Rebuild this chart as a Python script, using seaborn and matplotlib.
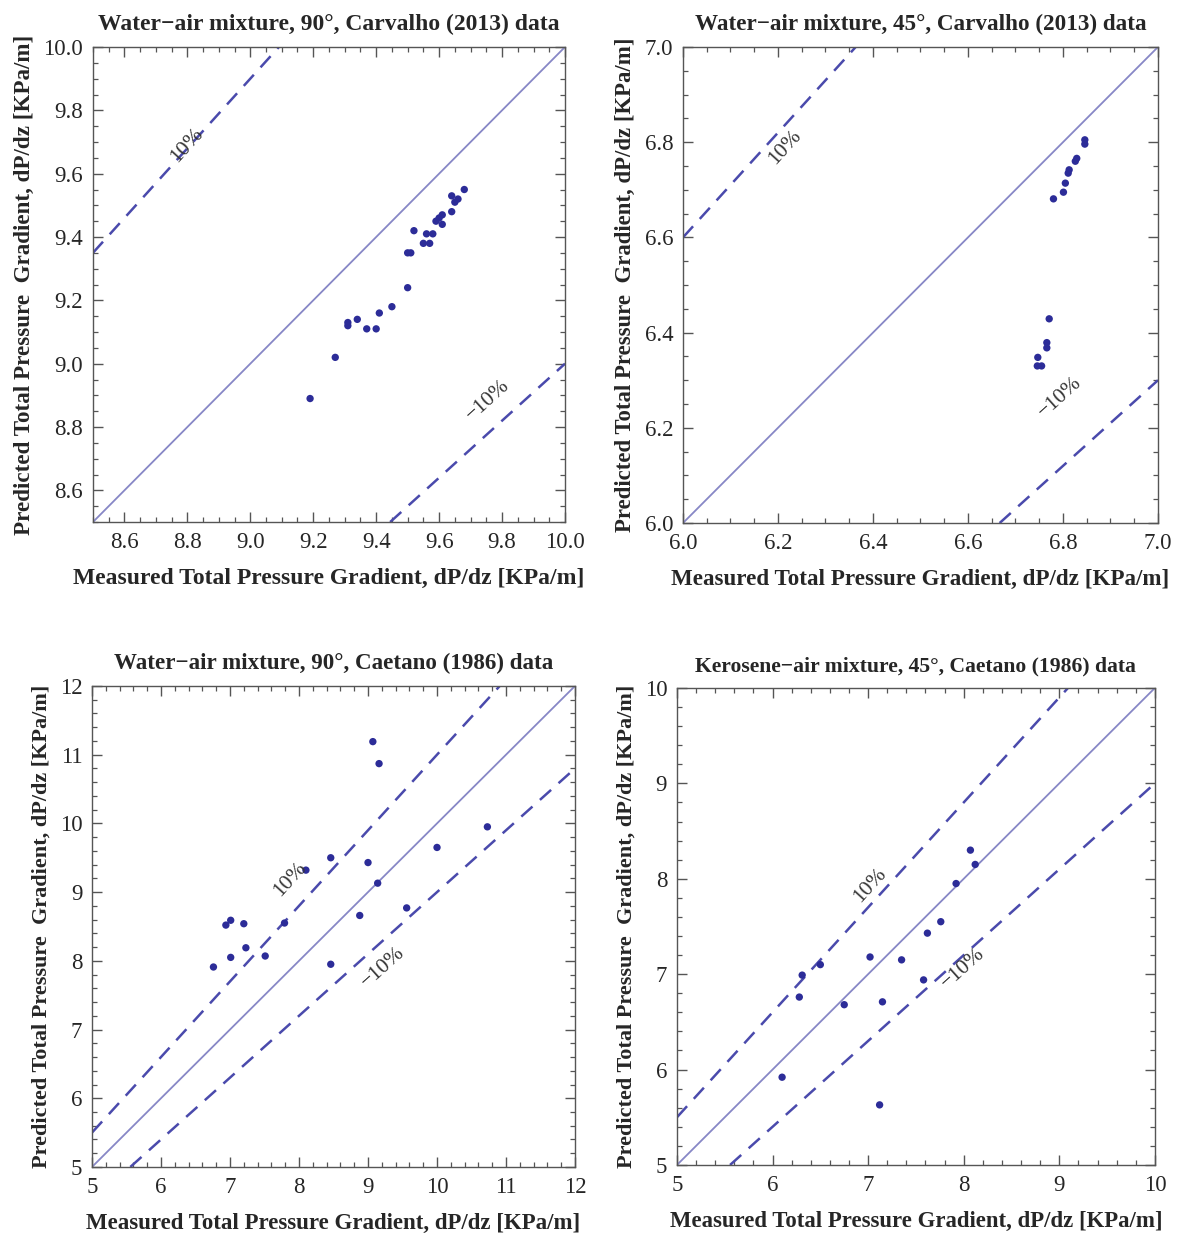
import numpy as np
import pandas as pd
import matplotlib
matplotlib.use("Agg")
import matplotlib.pyplot as plt
from matplotlib.ticker import MultipleLocator
import seaborn as sns

# ---- data ----
# Water-air, 90 deg, Carvalho (2013)
carv90_meas = [9.19, 9.27, 9.31, 9.31, 9.34, 9.37, 9.40, 9.41, 9.45, 9.50, 9.50, 9.51, 9.52,
               9.55, 9.57, 9.56, 9.58, 9.59, 9.60, 9.61, 9.61, 9.64, 9.64, 9.65, 9.66, 9.68]
carv90_pred = [8.89, 9.02, 9.13, 9.12, 9.14, 9.11, 9.11, 9.16, 9.18, 9.24, 9.35, 9.35, 9.42,
               9.38, 9.38, 9.41, 9.41, 9.45, 9.46, 9.44, 9.47, 9.48, 9.53, 9.51, 9.52, 9.55]

# Water-air, 45 deg, Carvalho (2013)
carv45_meas = [6.846, 6.846, 6.829, 6.826, 6.813, 6.811, 6.805, 6.801, 6.780,
               6.771, 6.766, 6.766, 6.747, 6.746, 6.755]
carv45_pred = [6.805, 6.796, 6.766, 6.760, 6.742, 6.735, 6.714, 6.695, 6.681,
               6.429, 6.379, 6.368, 6.348, 6.330, 6.330]

# Water-air, 90 deg, Caetano (1986)
caet90_meas = [9.07, 9.16, 10.73, 10.00, 8.46, 8.10, 9.00, 9.14, 9.56, 8.88,
               7.79, 6.94, 7.01, 7.20, 7.23, 7.01, 7.51, 6.76, 8.46]
caet90_pred = [11.19, 10.87, 9.95, 9.65, 9.50, 9.32, 9.43, 9.13, 8.77, 8.66,
               8.55, 8.52, 8.59, 8.54, 8.19, 8.05, 8.07, 7.91, 7.95]

# Kerosene-air, 45 deg, Caetano (1986)
kero45_meas = [8.07, 8.12, 7.92, 7.76, 7.62, 7.02, 7.35, 7.58, 6.50, 6.31, 6.28,
               6.75, 7.15, 6.10, 7.12]
kero45_pred = [8.30, 8.15, 7.95, 7.55, 7.43, 7.18, 7.15, 6.94, 7.10, 6.99, 6.76,
               6.68, 6.71, 5.92, 5.63]

titles = ["Water\u2212air mixture, 90\u00b0, Carvalho (2013) data",
          "Water\u2212air mixture, 45\u00b0, Carvalho (2013) data",
          "Water\u2212air mixture, 90\u00b0, Caetano (1986) data",
          "Kerosene\u2212air mixture, 45\u00b0, Caetano (1986) data"]
xlabel = "Measured Total Pressure Gradient, dP/dz [KPa/m]"
ylabel = "Predicted Total Pressure  Gradient, dP/dz [KPa/m]"

# ---- style ----
sns.set_theme(style="ticks")
plt.rcParams['font.family'] = ['Liberation Serif', 'DejaVu Serif']

POINT = "#2c2c98"
SOLID = "#8787c6"
DASH = "#4a4aac"
FRAME = "#555555"

fig = plt.figure(figsize=(11.81, 12.40), dpi=100)

panels = [
    # x, y, limits, major, minor, axes rect, label positions, tick format, (title, xlab, ylab) sizes
    (carv90_meas, carv90_pred, (8.5, 10.0), 0.2, 0.05, [0.0787, 0.5790, 0.3997, 0.3831],
     (8.80, 9.69), (9.755, 8.885), "%.1f", (17, 17, 16.6)),
    (carv45_meas, carv45_pred, (6.0, 7.0), 0.2, 0.05, [0.5783, 0.5782, 0.4022, 0.3839],
     (6.215, 6.79), (6.794, 6.263), "%.1f", (16.7, 16.6, 16.4)),
    (caet90_meas, caet90_pred, (5, 12), 1, 0.2, [0.0779, 0.0589, 0.4090, 0.3879],
     (7.87, 9.18), (9.217, 7.90), "%d", (16.6, 16.5, 16.0)),
    (kero45_meas, kero45_pred, (5, 10), 1, 0.2, [0.5732, 0.0605, 0.4047, 0.3847],
     (7.02, 7.935), (7.99, 7.065), "%d", (15.6, 16.4, 16.0)),
]

for i, (meas, pred, lim, major, minor, rect, lab_hi, lab_lo, fmt, fs) in enumerate(panels):
    ax = fig.add_axes(rect)
    df = pd.DataFrame({"meas": meas, "pred": pred})

    # reference lines: perfect agreement and +/-10%
    ax.axline((0, 0), slope=1.0, color=SOLID, lw=1.3, zorder=1)
    ax.axline((0, 0), slope=1.1, color=DASH, lw=1.8, ls=(0, (6, 4)), zorder=1)
    ax.axline((0, 0), slope=0.9, color=DASH, lw=1.8, ls=(0, (6, 4)), zorder=1)

    sns.scatterplot(data=df, x="meas", y="pred", ax=ax, color=POINT, s=28,
                    edgecolor="none", zorder=3)

    ax.set_xlim(lim)
    ax.set_ylim(lim)
    ax.xaxis.set_major_locator(MultipleLocator(major))
    ax.yaxis.set_major_locator(MultipleLocator(major))
    ax.xaxis.set_minor_locator(MultipleLocator(minor))
    ax.yaxis.set_minor_locator(MultipleLocator(minor))
    ax.xaxis.set_major_formatter(matplotlib.ticker.FormatStrFormatter(fmt))
    ax.yaxis.set_major_formatter(matplotlib.ticker.FormatStrFormatter(fmt))
    ax.tick_params(which="both", direction="in", top=True, right=True,
                   color=FRAME, labelsize=16.5, pad=7)
    ax.tick_params(which="major", length=7, width=1)
    ax.tick_params(which="minor", length=3.5, width=0.9)
    for sp in ax.spines.values():
        sp.set_color(FRAME)
        sp.set_linewidth(1.0)

    ax.set_title(titles[i], fontsize=fs[0], fontweight="bold", pad=12)
    ax.set_xlabel(xlabel, fontsize=fs[1], fontweight="bold", labelpad=11)
    ax.set_ylabel(ylabel, fontsize=fs[2], fontweight="bold", labelpad=6)

    # rotation matching the drawn slope of the dashed lines
    asp = (rect[3] * 12.40) / (rect[2] * 11.81)
    rot_hi = np.degrees(np.arctan(1.1 * asp))
    rot_lo = np.degrees(np.arctan(0.9 * asp))
    ax.text(lab_hi[0], lab_hi[1], "10%", rotation=rot_hi, rotation_mode="anchor",
            ha="center", va="center", fontsize=15.5, color="#333333", zorder=4)
    ax.text(lab_lo[0], lab_lo[1], "\u221210%", rotation=rot_lo, rotation_mode="anchor",
            ha="center", va="center", fontsize=15.5, color="#333333", zorder=4)

fig.savefig("out.png", dpi=100)
